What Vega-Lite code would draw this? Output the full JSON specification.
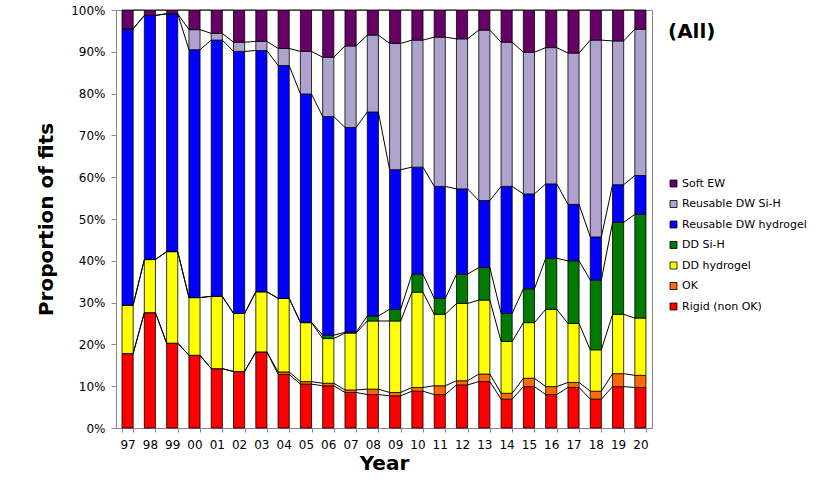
{
  "$schema": "https://vega.github.io/schema/vega-lite/v6.json",
  "width": 536,
  "height": 418,
  "autosize": "none",
  "padding": {"left": 116, "top": 10, "right": 164, "bottom": 58},
  "background": "white",
  "config": {
    "font": "DejaVu Sans",
    "view": {"stroke": "#888888", "strokeWidth": 1},
    "axis": {"labelFontSize": 12, "labelColor": "black", "domainColor": "#888888", "tickColor": "#888888", "grid": false, "titleFontSize": 20, "titleFontWeight": "bold", "titleColor": "black"}
  },
  "datasets": {
    "fits": [
      {"year": 1997, "Rigid (non OK)": 17.8, "OK": 0, "DD hydrogel": 11.6, "DD Si-H": 0, "Reusable DW hydrogel": 66.1, "Reusable DW Si-H": 0, "Soft EW": 4.5},
      {"year": 1998, "Rigid (non OK)": 27.6, "OK": 0, "DD hydrogel": 12.7, "DD Si-H": 0, "Reusable DW hydrogel": 58.4, "Reusable DW Si-H": 0, "Soft EW": 1.3},
      {"year": 1999, "Rigid (non OK)": 20.3, "OK": 0, "DD hydrogel": 21.9, "DD Si-H": 0, "Reusable DW hydrogel": 56.9, "Reusable DW Si-H": 0, "Soft EW": 0.9},
      {"year": 2000, "Rigid (non OK)": 17.4, "OK": 0, "DD hydrogel": 13.8, "DD Si-H": 0, "Reusable DW hydrogel": 59.3, "Reusable DW Si-H": 4.8, "Soft EW": 4.7},
      {"year": 2001, "Rigid (non OK)": 14.2, "OK": 0, "DD hydrogel": 17.3, "DD Si-H": 0, "Reusable DW hydrogel": 61.3, "Reusable DW Si-H": 1.6, "Soft EW": 5.6},
      {"year": 2002, "Rigid (non OK)": 13.5, "OK": 0, "DD hydrogel": 13.9, "DD Si-H": 0, "Reusable DW hydrogel": 62.7, "Reusable DW Si-H": 2.2, "Soft EW": 7.7},
      {"year": 2003, "Rigid (non OK)": 18.2, "OK": 0, "DD hydrogel": 14.4, "DD Si-H": 0, "Reusable DW hydrogel": 57.7, "Reusable DW Si-H": 2.2, "Soft EW": 7.5},
      {"year": 2004, "Rigid (non OK)": 12.8, "OK": 0.6, "DD hydrogel": 17.6, "DD Si-H": 0, "Reusable DW hydrogel": 55.7, "Reusable DW Si-H": 4.1, "Soft EW": 9.2},
      {"year": 2005, "Rigid (non OK)": 10.5, "OK": 0.6, "DD hydrogel": 14.1, "DD Si-H": 0.1, "Reusable DW hydrogel": 54.6, "Reusable DW Si-H": 10.2, "Soft EW": 9.9},
      {"year": 2006, "Rigid (non OK)": 10.1, "OK": 0.6, "DD hydrogel": 10.7, "DD Si-H": 0.8, "Reusable DW hydrogel": 52.3, "Reusable DW Si-H": 14.2, "Soft EW": 11.3},
      {"year": 2007, "Rigid (non OK)": 8.5, "OK": 0.6, "DD hydrogel": 13.6, "DD Si-H": 0.2, "Reusable DW hydrogel": 49.0, "Reusable DW Si-H": 19.5, "Soft EW": 8.6},
      {"year": 2008, "Rigid (non OK)": 8.0, "OK": 1.3, "DD hydrogel": 16.3, "DD Si-H": 1.2, "Reusable DW hydrogel": 48.8, "Reusable DW Si-H": 18.4, "Soft EW": 6.0},
      {"year": 2009, "Rigid (non OK)": 7.7, "OK": 0.8, "DD hydrogel": 17.1, "DD Si-H": 2.8, "Reusable DW hydrogel": 33.4, "Reusable DW Si-H": 30.2, "Soft EW": 8.0},
      {"year": 2010, "Rigid (non OK)": 8.8, "OK": 0.9, "DD hydrogel": 22.8, "DD Si-H": 4.3, "Reusable DW hydrogel": 25.6, "Reusable DW Si-H": 30.4, "Soft EW": 7.2},
      {"year": 2011, "Rigid (non OK)": 8.0, "OK": 2.1, "DD hydrogel": 17.1, "DD Si-H": 3.8, "Reusable DW hydrogel": 26.8, "Reusable DW Si-H": 35.7, "Soft EW": 6.5},
      {"year": 2012, "Rigid (non OK)": 10.3, "OK": 1.0, "DD hydrogel": 18.5, "DD Si-H": 7.0, "Reusable DW hydrogel": 20.4, "Reusable DW Si-H": 35.9, "Soft EW": 6.9},
      {"year": 2013, "Rigid (non OK)": 11.1, "OK": 1.8, "DD hydrogel": 17.7, "DD Si-H": 7.8, "Reusable DW hydrogel": 16.0, "Reusable DW Si-H": 40.8, "Soft EW": 4.8},
      {"year": 2014, "Rigid (non OK)": 6.9, "OK": 1.4, "DD hydrogel": 12.4, "DD Si-H": 6.7, "Reusable DW hydrogel": 30.4, "Reusable DW Si-H": 34.5, "Soft EW": 7.7},
      {"year": 2015, "Rigid (non OK)": 9.9, "OK": 2.0, "DD hydrogel": 13.3, "DD Si-H": 8.1, "Reusable DW hydrogel": 22.7, "Reusable DW Si-H": 33.9, "Soft EW": 10.1},
      {"year": 2016, "Rigid (non OK)": 8.0, "OK": 1.9, "DD hydrogel": 18.5, "DD Si-H": 12.2, "Reusable DW hydrogel": 17.8, "Reusable DW Si-H": 32.6, "Soft EW": 9.0},
      {"year": 2017, "Rigid (non OK)": 9.7, "OK": 1.2, "DD hydrogel": 14.1, "DD Si-H": 15.0, "Reusable DW hydrogel": 13.5, "Reusable DW Si-H": 36.2, "Soft EW": 10.3},
      {"year": 2018, "Rigid (non OK)": 6.9, "OK": 1.9, "DD hydrogel": 9.9, "DD Si-H": 16.7, "Reusable DW hydrogel": 10.3, "Reusable DW Si-H": 47.1, "Soft EW": 7.2},
      {"year": 2019, "Rigid (non OK)": 9.9, "OK": 3.1, "DD hydrogel": 14.2, "DD Si-H": 22.0, "Reusable DW hydrogel": 9.0, "Reusable DW Si-H": 34.4, "Soft EW": 7.4},
      {"year": 2020, "Rigid (non OK)": 9.7, "OK": 2.9, "DD hydrogel": 13.7, "DD Si-H": 24.8, "Reusable DW hydrogel": 9.3, "Reusable DW Si-H": 35.0, "Soft EW": 4.6}
    ],
    "types": [
      {"type": "Rigid (non OK)", "rank": 1},
      {"type": "OK", "rank": 2},
      {"type": "DD hydrogel", "rank": 3},
      {"type": "DD Si-H", "rank": 4},
      {"type": "Reusable DW hydrogel", "rank": 5},
      {"type": "Reusable DW Si-H", "rank": 6},
      {"type": "Soft EW", "rank": 7}
    ]
  },
  "data": {"name": "fits"},
  "transform": [
    {"fold": ["Rigid (non OK)", "OK", "DD hydrogel", "DD Si-H", "Reusable DW hydrogel", "Reusable DW Si-H", "Soft EW"], "as": ["type", "pct"]},
    {"lookup": "type", "from": {"data": {"name": "types"}, "key": "type", "fields": ["rank"]}},
    {"stack": "pct", "groupby": ["year"], "sort": [{"field": "rank", "order": "ascending"}], "as": ["lo", "hi"]},
    {"window": [{"op": "lead", "field": "hi", "as": "nextHi"}, {"op": "lead", "field": "year", "as": "nextYear"}], "groupby": ["type"], "sort": [{"field": "year", "order": "ascending"}]}
  ],
  "encoding": {
    "x": {
      "field": "year", "type": "ordinal",
      "scale": {"paddingInner": 0.5, "paddingOuter": 0.27},
      "axis": {"title": "Year", "labelAngle": 0, "labelExpr": "isValid(datum.value) ? substring(datum.value + '', 2, 4) : ''", "tickBand": "extent", "tickSize": 4, "labelPadding": 7, "titlePadding": 3}
    }
  },
  "layer": [
    {
      "mark": {"type": "bar", "stroke": "black", "strokeWidth": 0.8},
      "encoding": {
        "y": {
          "field": "lo", "type": "quantitative",
          "scale": {"domain": [0, 100], "nice": false},
          "axis": {"title": "Proportion of fits", "values": [0, 10, 20, 30, 40, 50, 60, 70, 80, 90, 100], "labelExpr": "datum.value + '%'", "tickSize": 5, "labelPadding": 6, "titlePadding": 14}
        },
        "y2": {"field": "hi"},
        "color": {
          "field": "type", "type": "nominal",
          "scale": {
            "domain": ["Soft EW", "Reusable DW Si-H", "Reusable DW hydrogel", "DD Si-H", "DD hydrogel", "OK", "Rigid (non OK)"],
            "range": ["#660066", "#aea3cc", "#0000ff", "#007a00", "#ffff00", "#ff6a00", "#ff0000"]
          },
          "legend": {
            "title": "(All)", "titleFontSize": 20, "titleFontWeight": "bold", "titleColor": "black", "titlePadding": 136,
            "orient": "none", "legendX": 552, "legendY": 12,
            "symbolType": "square", "symbolSize": 49, "symbolStrokeColor": "black", "symbolStrokeWidth": 0.8,
            "labelFontSize": 11, "labelColor": "black", "labelOffset": 3, "rowPadding": 8.5
          }
        }
      }
    },
    {
      "transform": [{"filter": "isValid(datum.nextYear)"}],
      "mark": {"type": "rule", "color": "black", "strokeWidth": 1, "xOffset": 5.5, "x2Offset": -5.5},
      "encoding": {
        "x2": {"field": "nextYear"},
        "y": {"field": "hi", "type": "quantitative"},
        "y2": {"field": "nextHi"}
      }
    }
  ]
}
